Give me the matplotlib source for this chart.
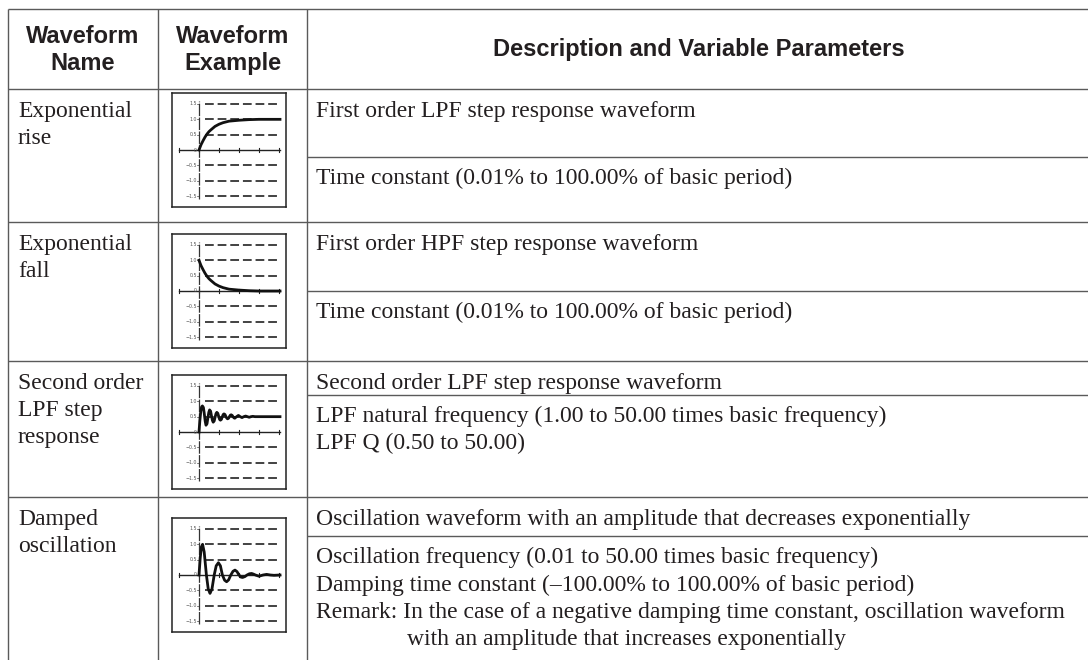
import matplotlib
matplotlib.use("Agg")
import matplotlib.pyplot as plt

plt.rcParams['lines.scale_dashes'] = False

# ---------------- data ----------------
names = [["Exponential", "rise"],
         ["Exponential", "fall"],
         ["Second order", "LPF step", "response"],
         ["Damped", "oscillation"]]
desc_main = ["First order LPF step response waveform",
             "First order HPF step response waveform",
             "Second order LPF step response waveform",
             "Oscillation waveform with an amplitude that decreases exponentially"]
desc_params = [["Time constant (0.01% to 100.00% of basic period)"],
               ["Time constant (0.01% to 100.00% of basic period)"],
               ["LPF natural frequency (1.00 to 50.00 times basic frequency)",
                "LPF Q (0.50 to 50.00)"],
               ["Oscillation frequency (0.01 to 50.00 times basic frequency)",
                "Damping time constant (\u2013100.00% to 100.00% of basic period)",
                "Remark: In the case of a negative damping time constant, oscillation waveform",
                "with an amplitude that increases exponentially"]]
headers = [["Waveform", "Name"], ["Waveform", "Example"], ["Description and Variable Parameters"]]

ytick_vals = [1.5, 1.0, 0.5, 0, -0.5, -1.0, -1.5]
ytick_labels = ["1.5", "1.0", "0.5", "0", "\u22120.5", "\u22121.0", "\u22121.5"]
xtick_vals = [-1, 0, 1, 2, 3, 4]

rise_x = [0, 0.1, 0.2, 0.3, 0.4, 0.5, 0.6, 0.8, 1.0, 1.2, 1.5, 2.0, 2.5, 3.0, 4.05]
rise_y = [0, 0.17, 0.30, 0.42, 0.52, 0.60, 0.66, 0.77, 0.84, 0.89, 0.94, 0.97, 0.99, 1.0, 1.0]

fall_x = [0, 0.1, 0.2, 0.3, 0.4, 0.5, 0.6, 0.8, 1.0, 1.2, 1.5, 2.0, 2.5, 3.0, 4.05]
fall_y = [1.0, 0.83, 0.70, 0.58, 0.48, 0.40, 0.34, 0.23, 0.16, 0.11, 0.06, 0.03, 0.01, 0.0, 0.0]

lpf_x = [0, 0.04, 0.09, 0.13, 0.17, 0.22, 0.26, 0.31, 0.35, 0.40, 0.44, 0.49, 0.53,
         0.58, 0.62, 0.67, 0.71, 0.76, 0.80, 0.85, 0.89, 0.94, 0.98, 1.03, 1.07,
         1.12, 1.16, 1.21, 1.25, 1.30, 1.34, 1.39, 1.43, 1.48, 1.52, 1.57, 1.61,
         1.66, 1.70, 1.75, 1.79, 1.88, 1.97, 2.06, 2.15, 2.24, 2.33, 2.42, 2.51,
         2.60, 2.69, 2.80, 4.05]
lpf_y = [0, 0.35, 0.68, 0.82, 0.85, 0.80, 0.62, 0.35, 0.22, 0.27, 0.44, 0.64, 0.72,
         0.68, 0.54, 0.38, 0.32, 0.36, 0.47, 0.60, 0.64, 0.61, 0.52, 0.41, 0.385,
         0.41, 0.49, 0.57, 0.59, 0.57, 0.51, 0.45, 0.43, 0.45, 0.50, 0.55, 0.56,
         0.54, 0.50, 0.46, 0.45, 0.50, 0.54, 0.50, 0.47, 0.50, 0.52, 0.50, 0.48,
         0.50, 0.51, 0.50, 0.50]

damp_x = [0, 0.06, 0.12, 0.18, 0.26, 0.37, 0.46, 0.55, 0.65, 0.76, 0.86, 0.97, 1.07,
          1.17, 1.28, 1.38, 1.48, 1.59, 1.70, 1.80, 1.90, 2.00, 2.10, 2.18, 2.30,
          2.40, 2.52, 2.63, 2.72, 2.82, 3.00, 3.20, 3.38, 3.57, 3.75, 4.05]
damp_y = [0, 0.55, 0.92, 1.0, 0.75, 0.0, -0.45, -0.60, -0.45, 0.0, 0.30, 0.40, 0.30,
          0.0, -0.17, -0.22, -0.16, 0.0, 0.12, 0.16, 0.11, 0.0, -0.07, -0.08, -0.05,
          0.0, 0.04, 0.05, 0.03, 0.0, -0.04, 0.0, 0.02, 0.0, -0.01, 0.0]

waves = [(rise_x, rise_y), (fall_x, fall_y), (lpf_x, lpf_y), (damp_x, damp_y)]

# ---------------- layout ----------------
W, H = 1088, 660
fig = plt.figure(figsize=(W / 100, H / 100), dpi=100)
ax = fig.add_axes([0, 0, 1, 1])
ax.set_xlim(0, W)
ax.set_ylim(H, 0)
ax.axis('off')

line_col = '#5a5a5a'
lw = 1.0
x_left, x_c1, x_c2 = 8, 158, 307
y_top, y_head = 9, 89
row_tops = [89, 222, 361, 497]
sep_ys = [157, 291, 395, 536]
box_tops = [93, 234, 375, 518]
box_left, box_size = 172, 114

serif = 'Liberation Serif'
sans = 'Liberation Sans'
body_fs = 17
head_fs = 17
txt_col = '#231f20'

# table lines
ax.plot([x_left, W], [y_top, y_top], color=line_col, lw=lw, solid_capstyle='butt')
for yt in row_tops:
    ax.plot([x_left, W], [yt, yt], color=line_col, lw=lw, solid_capstyle='butt')
for xv in (x_left, x_c1, x_c2):
    ax.plot([xv, xv], [y_top, H], color=line_col, lw=lw, solid_capstyle='butt')
for sy in sep_ys:
    ax.plot([x_c2, W], [sy, sy], color=line_col, lw=lw, solid_capstyle='butt')

# headers
head_x = [(x_left + x_c1) / 2, (x_c1 + x_c2) / 2, (x_c2 + W) / 2 + 1]
for hx, hl in zip(head_x, headers):
    bases = [43, 70] if len(hl) == 2 else [56]
    for b, s in zip(bases, hl):
        ax.text(hx, b, s, ha='center', va='baseline', fontsize=head_fs,
                fontweight='bold', family=sans, color=txt_col)

# measure indent of the continuation line (aligned after "Remark: ")
fig.canvas.draw()
r = fig.canvas.get_renderer()
t1 = ax.text(0, 0, "Remark: x", fontsize=body_fs, family=serif)
t2 = ax.text(0, 0, "x", fontsize=body_fs, family=serif)
indent = t1.get_window_extent(r).width - t2.get_window_extent(r).width
t1.remove()
t2.remove()

LS = 27.5
for i in range(4):
    top = row_tops[i]
    base = top + 28
    for k, ln in enumerate(names[i]):
        ax.text(18, base + k * 27, ln, ha='left', va='baseline', fontsize=body_fs,
                family=serif, color=txt_col)
    ax.text(316, base, desc_main[i], ha='left', va='baseline', fontsize=body_fs,
            family=serif, color=txt_col)
    pb = sep_ys[i] + 27
    for k, ln in enumerate(desc_params[i]):
        xx = 316
        if i == 3 and k == 3:
            xx = 316 + indent + 4
        ax.text(xx, pb + k * LS, ln, ha='left', va='baseline', fontsize=body_fs,
                family=serif, color=txt_col)

# waveform mini plots
xl = (box_left - 199) / 20.0
xr = (box_left + box_size - 199) / 20.0
yr = 57 / 30.67
for i, (wx, wy) in enumerate(waves):
    t = box_tops[i]
    m = fig.add_axes([box_left / W, 1 - (t + box_size) / H, box_size / W, box_size / H])
    m.set_xlim(xl, xr)
    m.set_ylim(-yr, yr)
    m.set_xticks([])
    m.set_yticks([])
    for s in m.spines.values():
        s.set_color('#222222')
        s.set_linewidth(1.1)
    for v, lab in zip(ytick_vals, ytick_labels):
        if v != 0:
            m.plot([0.3, 4.05], [v, v], color='#222222', lw=1.2, dashes=(6.3, 2.8))
        m.plot([-0.08, 0], [v, v], color='#444444', lw=0.5)
        m.text(-0.1, v, lab, ha='right', va='center', fontsize=3.4, color='#555555',
               family='DejaVu Sans')
    m.plot([-1, 4.05], [0, 0], color='#222222', lw=1.0)
    for xv in xtick_vals:
        m.plot([xv, xv], [-0.05, 0.05], color='#222222', lw=0.8)
    m.plot([0, 0], [-1.6, 1.6], color='#333333', lw=0.9, dashes=(9, 1))
    m.plot(wx, wy, color='#111111', lw=2.0, solid_joinstyle='round')

fig.savefig('out.png', dpi=100)
